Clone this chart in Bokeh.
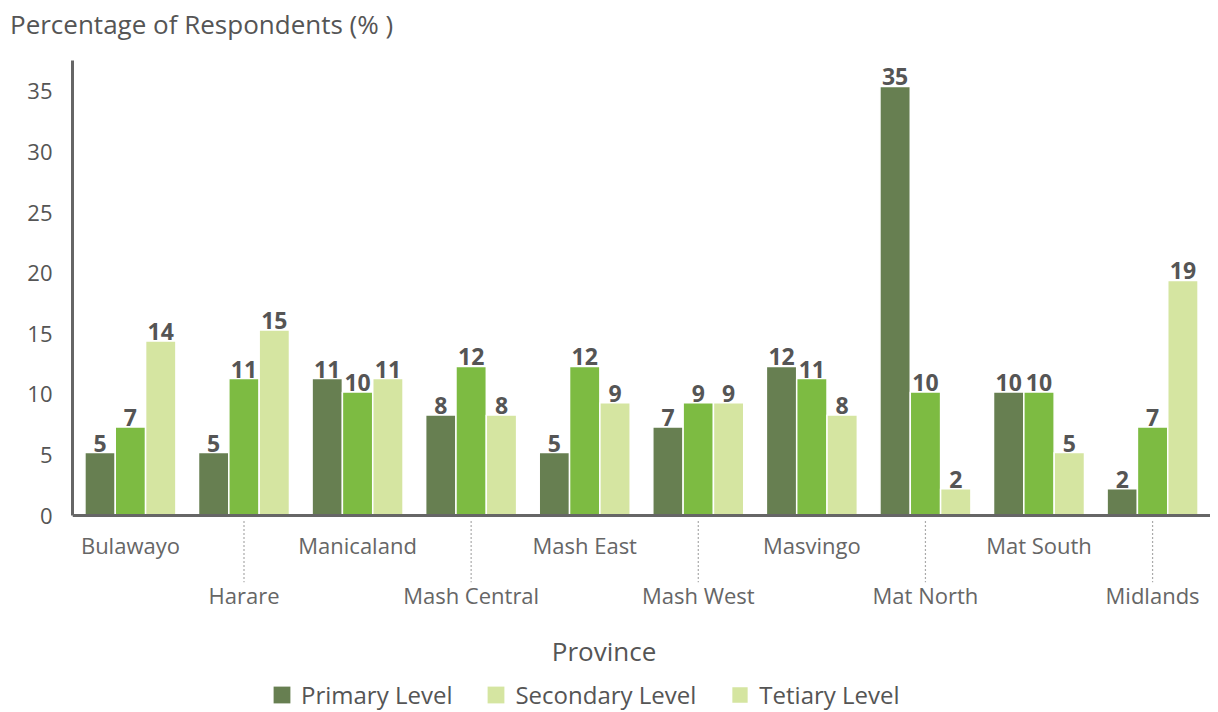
from bokeh.plotting import figure
from bokeh.layouts import column
from bokeh.models import Range1d, FixedTicker, Div, Legend, LegendItem, ColumnDataSource
from bokeh.embed import file_html
from bokeh.resources import INLINE
from bokeh.core.properties import value

provinces = ["Bulawayo", "Harare", "Manicaland", "Mash Central", "Mash East",
             "Mash West", "Masvingo", "Mat North", "Mat South", "Midlands"]
primary = [5.2, 5.2, 11.3, 8.3, 5.2, 7.3, 12.3, 35.4, 10.2, 2.2]
secondary = [7.3, 11.3, 10.2, 12.3, 12.3, 9.3, 11.3, 10.2, 10.2, 7.3]
tertiary = [14.4, 15.3, 11.3, 8.3, 9.3, 9.3, 8.3, 2.2, 5.2, 19.4]
primary_labels = [5, 5, 11, 8, 5, 7, 12, 35, 10, 2]
secondary_labels = [7, 11, 10, 12, 12, 9, 11, 10, 10, 7]
tertiary_labels = [14, 15, 11, 8, 9, 9, 8, 2, 5, 19]
series_names = ["Primary Level", "Secondary Level", "Tetiary Level"]
y_ticks = [0, 5, 10, 15, 20, 25, 30, 35]
title_text = "Percentage of Respondents (% )"

C_PRIM = "#677f51"
C_SEC = "#7dbb42"
C_TER = "#d5e5a1"
TXT = "#555555"
FONT = "Open Sans"

W_PX = 1210
TITLE_H = 60
PLOT_H = 652
LEFT_B = 72
Y_TOP = 37.54
Y_BOT = -16.25
X_LO, X_HI = -0.51, 9.51

title = Div(text=title_text, width=W_PX, height=TITLE_H, margin=0,
            styles={"font-family": "'Open Sans', sans-serif", "font-size": "26px",
                    "color": TXT, "padding-left": "10px", "padding-top": "6px",
                    "white-space": "nowrap", "box-sizing": "border-box"})

p = figure(width=W_PX, height=PLOT_H, output_backend="svg", toolbar_location=None,
           x_range=Range1d(X_LO, X_HI), y_range=Range1d(Y_BOT, Y_TOP),
           x_axis_location=None, min_border_left=LEFT_B, min_border_right=0,
           min_border_top=0, min_border_bottom=0, margin=0)
p.outline_line_color = None
p.xgrid.visible = False
p.ygrid.visible = False
p.background_fill_color = "white"

# y axis
ax = p.yaxis[0]
ax.ticker = FixedTicker(ticks=y_ticks)
ax.bounds = (0, Y_TOP)
ax.axis_line_color = "#666666"
ax.axis_line_width = 3
ax.major_tick_line_color = None
ax.minor_tick_line_color = None
ax.major_label_text_font = FONT
ax.major_label_text_font_size = "22px"
ax.major_label_text_color = TXT
ax.major_label_standoff = 14

# bars
W = 0.267
offsets = [-W, 0.0, W]
series = [primary, secondary, tertiary]
labels = [primary_labels, secondary_labels, tertiary_labels]
colors = [C_PRIM, C_SEC, C_TER]
renderers = []
for vals, labs, off, col in zip(series, labels, offsets, colors):
    src = ColumnDataSource(dict(x=[i + off for i in range(len(provinces))], top=vals,
                                lab=[str(v) for v in labs]))
    r = p.vbar(x="x", top="top", bottom=0, width=W, source=src, fill_color=col,
               line_color="white", line_width=1.5)
    renderers.append(r)
    p.text(x="x", y="top", text="lab", source=src, text_align="center",
           text_baseline="bottom", y_offset=-1, text_font=value(FONT),
           text_font_style="bold", text_font_size="23px", text_color=TXT)

# baseline (x axis line)
p.segment(x0=[X_LO], y0=[0], x1=[X_HI], y1=[0], line_color="#666666", line_width=3)

# staggered category labels
even_idx = [i for i in range(len(provinces)) if i % 2 == 0]
odd_idx = [i for i in range(len(provinces)) if i % 2 == 1]
p.text(x=even_idx, y=[-2.4] * len(even_idx), text=[provinces[i] for i in even_idx],
       text_align="center", text_baseline="middle", text_font=value(FONT),
       text_font_size="22px", text_color="#666666")
p.segment(x0=odd_idx, y0=[-0.45] * len(odd_idx), x1=odd_idx, y1=[-5.5] * len(odd_idx),
          line_color="#aaaaaa", line_width=1.2, line_dash="2 2")
p.text(x=odd_idx, y=[-6.55] * len(odd_idx), text=[provinces[i] for i in odd_idx],
       text_align="center", text_baseline="middle", text_font=value(FONT),
       text_font_size="22px", text_color="#666666")

# x axis title
p.text(x=[4.17], y=[-11.15], text=["Province"], text_align="center",
       text_baseline="middle", text_font=value(FONT), text_font_size="26px",
       text_color=TXT, text_font_style="normal")

# legend (secondary swatch drawn light as in the source)
dummy = p.vbar(x=[0], top=[float("nan")], width=W, fill_color=C_TER, line_color=None)
prim_leg = p.vbar(x=[0], top=[float("nan")], width=W, fill_color=C_PRIM, line_color=None)
legend = Legend(items=[LegendItem(label=series_names[0], renderers=[prim_leg]),
                       LegendItem(label=series_names[1], renderers=[dummy]),
                       LegendItem(label=series_names[2], renderers=[renderers[2]])],
                orientation="horizontal", location=(199, 1),
                border_line_color=None, background_fill_alpha=0,
                padding=0, margin=0, spacing=33, label_standoff=9,
                glyph_width=21, glyph_height=21, label_height=21,
                label_text_font=FONT, label_text_font_size="24px",
                label_text_color=TXT)
p.add_layout(legend)

layout = column(title, p, spacing=0)
open("out.html", "w").write(file_html(layout, INLINE))
